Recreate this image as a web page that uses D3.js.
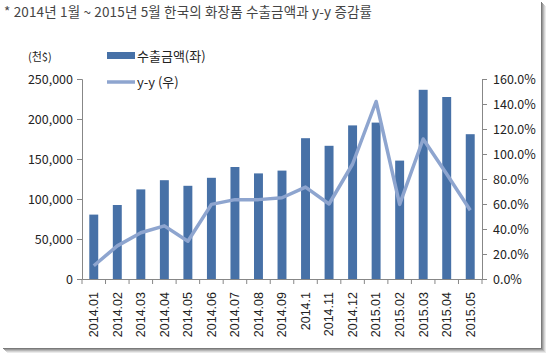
<!DOCTYPE html>
<html><head><meta charset="utf-8">
<script src="https://cdn.jsdelivr.net/npm/d3@7"></script>
<style>
html,body{margin:0;padding:0;background:#fff;}
svg text{font-family:"Noto Sans CJK KR","Noto Sans",sans-serif;}
</style></head>
<body>
<svg id="c" width="550" height="357"></svg>
<script>
const titleText = "* 2014년 1월 ~ 2015년 5월 한국의 화장품 수출금액과 y-y 증감률";
const categories = ["2014.01","2014.02","2014.03","2014.04","2014.05","2014.06","2014.07","2014.08","2014.09","2014.1","2014.11","2014.12","2015.01","2015.02","2015.03","2015.04","2015.05"];
const exportAmount = [80500,92500,112000,123500,116500,126500,140000,132000,135500,176000,166500,192000,195500,148000,236500,227500,181000];
const yoyRate = [10.6,26.5,37,42.5,30.2,59.7,63.5,63.5,65,73.5,60,92,142,59.7,112,84,55];
const leftTicks = [0,50000,100000,150000,200000,250000];
const rightTicks = [0,20,40,60,80,100,120,140,160];
const seriesNames = ["수출금액(좌)","y-y (우)"];
const unitLabel = "(천$)";

const svg = d3.select("#c");
const L = 82, R = 482, T = 79, B = 279;
const barColor = "#4771a7", lineColor = "#8ea5cf", axisColor = "#878787";

// shadow border
const sh = svg.append("g");
[["#7a7a7a",0],["#9a9a9a",1],["#b8b8b8",2],["#d4d4d4",3],["#eaeaea",4]].forEach(([c,i])=>{
  sh.append("rect").attr("x",541+i).attr("y",2+i).attr("width",1).attr("height",346).attr("fill",c);
  sh.append("rect").attr("x",3+i).attr("y",348+i).attr("width",539).attr("height",1).attr("fill",c);
});

svg.append("text").attr("x",4).attr("y",17).attr("font-size",13.5).attr("fill","#444")
  .attr("textLength",368).attr("lengthAdjust","spacing").text(titleText);

const x = d3.scaleBand().domain(categories).range([L,R]).paddingInner(0.62).paddingOuter(0.31);
const xb = d3.scaleBand().domain(categories).range([L,R]);
const yL = d3.scaleLinear().domain([0,250000]).range([B,T]);
const yR = d3.scaleLinear().domain([0,160]).range([B,T]);

// bars
svg.append("g").selectAll("rect").data(categories).join("rect")
  .attr("x",d=>x(d)).attr("width",x.bandwidth())
  .attr("y",(d,i)=>yL(exportAmount[i])).attr("height",(d,i)=>B-yL(exportAmount[i]))
  .attr("fill",barColor);

// line
const line = d3.line().x((d,i)=>xb(categories[i])+xb.bandwidth()/2).y(d=>yR(d));
svg.append("path").datum(yoyRate).attr("d",line).attr("fill","none")
  .attr("stroke",lineColor).attr("stroke-width",3.5).attr("stroke-linejoin","round");

// axes
const fmt = d3.format(",");
const gl = svg.append("g").attr("transform",`translate(${L},0)`)
  .call(d3.axisLeft(yL).tickValues(leftTicks).tickFormat(fmt).tickSize(5).tickPadding(4));
const gr = svg.append("g").attr("transform",`translate(${R},0)`)
  .call(d3.axisRight(yR).tickValues(rightTicks).tickFormat(d=>d.toFixed(1)+"%").tickSize(5).tickPadding(6));
const gx = svg.append("g").attr("transform",`translate(0,${B})`)
  .call(d3.axisBottom(xb).tickSize(0).tickPadding(0));
[gl,gr,gx].forEach(g=>{
  g.select(".domain").attr("stroke",axisColor);
  g.selectAll(".tick line").attr("stroke",axisColor);
  g.selectAll("text").attr("font-size",12).attr("fill","#222");
});
gl.selectAll("text").attr("font-size",12.5);
gr.selectAll("text").attr("font-size",12.5);
// x ticks between categories
gx.append("g").selectAll("line").data(d3.range(categories.length+1)).join("line")
  .attr("x1",i=>L+i*xb.step()).attr("x2",i=>L+i*xb.step()).attr("y1",0).attr("y2",5).attr("stroke",axisColor);
gx.selectAll(".tick text").attr("transform","rotate(-90)").attr("text-anchor","end")
  .attr("x",-13).attr("y",0).attr("dy","0.35em")
  .style("font-family","'Liberation Sans',Arial,sans-serif").attr("font-size",12.5);

// unit label
svg.append("text").attr("x",28).attr("y",61).attr("font-size",11).attr("fill","#222").text(unitLabel);

// legend
svg.append("rect").attr("x",107).attr("y",52).attr("width",28).attr("height",7).attr("fill",barColor);
svg.append("text").attr("x",137).attr("y",61).attr("font-size",13).attr("fill","#222").text(seriesNames[0]);
svg.append("line").attr("x1",107).attr("x2",135).attr("y1",82).attr("y2",82).attr("stroke",lineColor).attr("stroke-width",3.5);
svg.append("text").attr("x",137).attr("y",86.5).attr("font-size",13).attr("fill","#222").text(seriesNames[1]);
</script>
</body></html>
